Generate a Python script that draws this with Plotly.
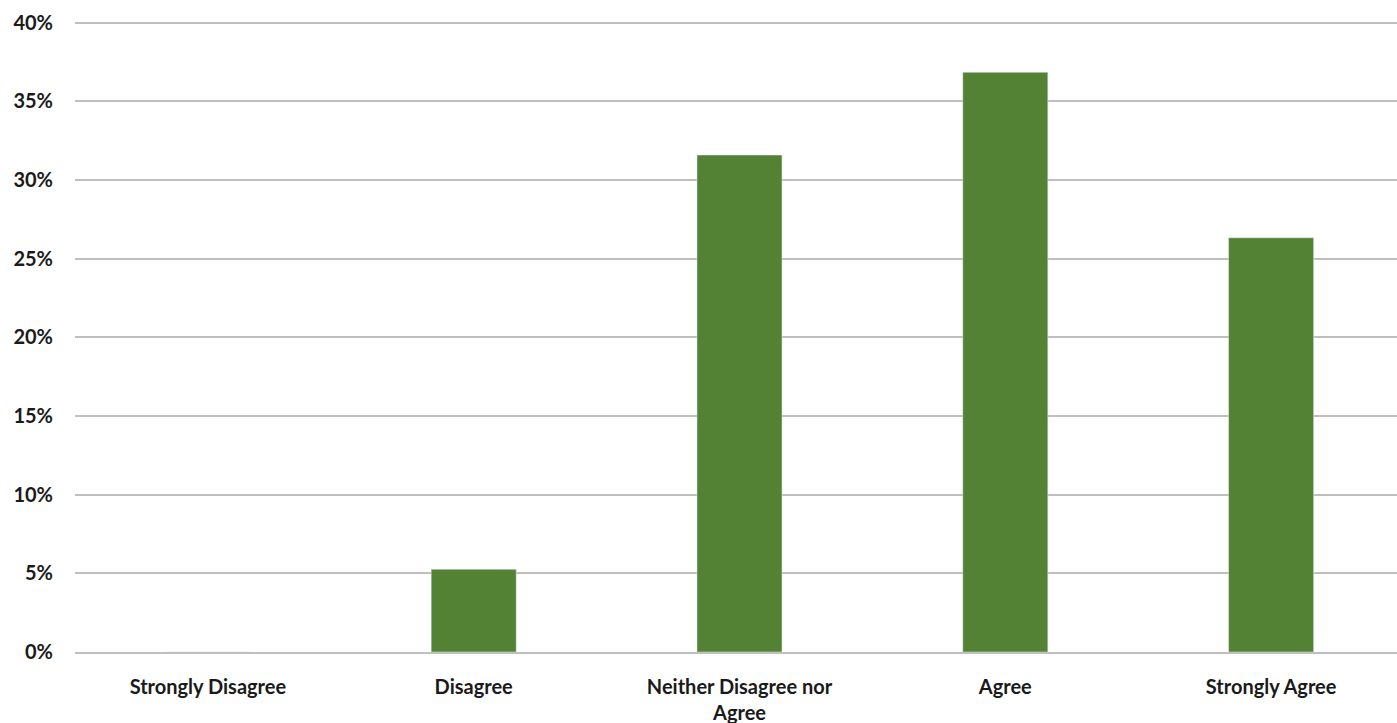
import plotly.graph_objects as go

categories = ["Strongly Disagree", "Disagree", "Neither Disagree nor<br>Agree", "Agree", "Strongly Agree"]
values = [0.0, 0.0526, 0.3158, 0.3684, 0.2632]
tick_vals = [0, 0.05, 0.10, 0.15, 0.20, 0.25, 0.30, 0.35, 0.40]
tick_text = ["0%", "5%", "10%", "15%", "20%", "25%", "30%", "35%", "40%"]

FONT = "Lato, Open Sans, sans-serif"

fig = go.Figure(go.Bar(
    x=categories, y=values,
    marker=dict(color="#548235"),
    width=0.32,
    hoverinfo="skip",
))

fig.update_layout(
    width=1404, height=723,
    margin=dict(l=75, r=0, t=20, b=71),
    paper_bgcolor="white", plot_bgcolor="white",
    showlegend=False,
    font=dict(family=FONT, size=20, color="#1a1a1a"),
)
fig.update_yaxes(
    range=[0, 0.4016], tickmode="array", tickvals=tick_vals,
    ticktext=["<b>" + t + "</b>" for t in tick_text],
    showgrid=True, gridcolor="#bfbfbf", gridwidth=1.5,
    zeroline=False, showline=False, automargin=False,
    ticks="outside", ticklen=17, tickcolor="rgba(0,0,0,0)",
    tickfont=dict(family=FONT, size=20, color="#1a1a1a"),
)
fig.update_xaxes(
    tickmode="array", tickvals=categories,
    ticktext=["<b>" + c + "</b>" for c in categories],
    showgrid=False, showline=True, linecolor="#bfbfbf", linewidth=1.5,
    automargin=False,
    ticks="outside", ticklen=16, tickcolor="rgba(0,0,0,0)",
    tickfont=dict(family=FONT, size=20, color="#1a1a1a"),
)

fig.write_html(
    "out.html",
    config={"displayModeBar": False},
    post_script="document.body.style.margin='0';document.body.style.overflow='hidden';",
)
